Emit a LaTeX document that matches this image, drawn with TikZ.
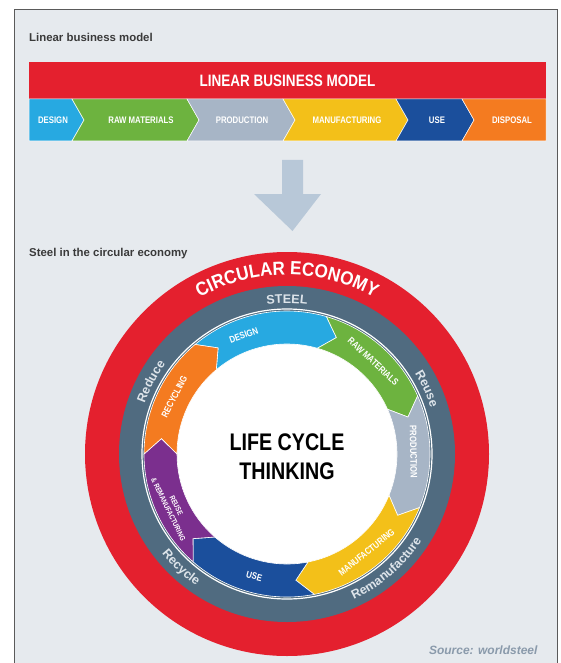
\documentclass[tikz,border=0pt]{standalone}
\usepackage{fontspec}
\setmainfont{Liberation Sans}
\newfontfamily\condfont[FakeStretch=0.82]{Liberation Sans}
\newfontfamily\semicond[FakeStretch=0.9]{Liberation Sans}
\usetikzlibrary{decorations.text}

\definecolor{paper}{HTML}{E6EAEE}
\definecolor{framegray}{HTML}{5A5A5A}
\definecolor{ecored}{HTML}{E4202E}
\definecolor{steel}{HTML}{506B80}
\definecolor{designblue}{HTML}{27A9E1}
\definecolor{rawgreen}{HTML}{6DB33F}
\definecolor{prodgray}{HTML}{A7B5C6}
\definecolor{manuyellow}{HTML}{F3C019}
\definecolor{useblue}{HTML}{1B4F9C}
\definecolor{dispoorange}{HTML}{F47B20}
\definecolor{reusepurple}{HTML}{7B2F8E}
\definecolor{arrowgray}{HTML}{B8C8D8}
\definecolor{ringtext}{HTML}{DDE4EA}
\definecolor{titletext}{HTML}{3A3A3A}
\definecolor{sourcetext}{HTML}{8A9AAB}

\tikzset{
  chev/.style={draw=white, line width=0.5pt},
  barlabel/.style={text=white, font=\condfont\bfseries\fontsize{9.5}{10}\selectfont},
  cyclabel/.style={text=white, font=\condfont\bfseries\fontsize{9.5}{10}\selectfont, align=center, inner sep=0pt},
  title/.style={anchor=west, text=titletext, font=\bfseries\fontsize{11.4}{12}\selectfont, inner sep=0pt}
}
\newcommand{\ringfont}{\bfseries\fontsize{12.5}{13}\selectfont\color{ringtext}}

\begin{document}
\begin{tikzpicture}[x=1pt, y=1pt]
    \useasboundingbox (0,0) rectangle (560,-663);

    % Fondo y marco
    \fill[white] (0,0) rectangle (560,-663);
    \draw[framegray, fill=paper, line width=1pt] (14,-10) rectangle (557,-670);

    % Modelo lineal
    \node[title] (lintitle) at (29,-37) {Linear business model};
    \fill[ecored] (29,-62) rectangle (546,-99);
    \node[text=white, font=\condfont\bfseries\fontsize{16.5}{17}\selectfont] (linhead) at (287.5,-80.5) {LINEAR BUSINESS MODEL};

    % Flechas del modelo lineal
    \fill[designblue, chev] (29,-99) -- (72,-99) -- (84,-120) -- (72,-141) -- (29,-141) -- cycle;
    \fill[rawgreen, chev] (72,-99) -- (187,-99) -- (199,-120) -- (187,-141) -- (72,-141) -- (84,-120) -- cycle;
    \fill[prodgray, chev] (187,-99) -- (283,-99) -- (295,-120) -- (283,-141) -- (187,-141) -- (199,-120) -- cycle;
    \fill[manuyellow, chev] (283,-99) -- (396,-99) -- (408,-120) -- (396,-141) -- (283,-141) -- (295,-120) -- cycle;
    \fill[useblue, chev] (396,-99) -- (462,-99) -- (474,-120) -- (462,-141) -- (396,-141) -- (408,-120) -- cycle;
    \fill[dispoorange, chev] (462,-99) -- (546,-99) -- (546,-141) -- (462,-141) -- (474,-120) -- cycle;
    \node[barlabel] (ldesign) at (53,-120) {DESIGN};
    \node[barlabel] (lraw) at (141,-120) {RAW MATERIALS};
    \node[barlabel] (lprod) at (242,-120) {PRODUCTION};
    \node[barlabel] (lmanu) at (347,-120) {MANUFACTURING};
    \node[barlabel] (luse) at (437,-120) {USE};
    \node[barlabel] (ldisp) at (512,-120) {DISPOSAL};

    % Flecha hacia abajo
    \fill[arrowgray] (282,-160) -- (303,-160) -- (303,-194) -- (321,-194) -- (292.5,-231) -- (254,-194) -- (282,-194) -- cycle;

    % Economia circular
    \node[title] (circtitle) at (29,-254) {Steel in the circular economy};

    \begin{scope}[shift={(287,-454)}]
      % Anillos
      \fill[ecored] (0,0) circle (202pt);
      \fill[steel] (0,0) circle (168pt);
      \draw[white, line width=1.2pt] (0,0) circle (145pt);
      \fill[white] (0,0) circle (112pt);

      % Flechas del ciclo
      \foreach \a/\b/\col in {130/74/designblue, 74/24/rawgreen, 24/-22/prodgray,
                              -22/-79/manuyellow, -79/-131/useblue,
                              -131/-180/reusepurple, 180/130/dispoorange}
        \fill[\col, draw=white, line width=0.6pt]
          (\a:143pt) arc[start angle=\a, end angle=\b, radius=143pt]
          -- ({\b-7}:126.5pt) -- (\b:110pt)
          arc[start angle=\b, end angle=\a, radius=110pt]
          -- ({\a-7}:126.5pt) -- cycle;

      \node[cyclabel, rotate=20] (cdesign) at (110:126.5pt) {DESIGN};
      \node[cyclabel, rotate=-43] (craw) at (47:126.5pt) {RAW MATERIALS};
      \node[cyclabel, rotate=-89] (cprod) at (1:126.5pt) {PRODUCTION};
      \node[cyclabel, rotate=39] (cmanu) at (-51:126.5pt) {MANUFACTURING};
      \node[cyclabel, rotate=-15] (cuse) at (-105:126.5pt) {USE};
      \node[cyclabel, rotate=-64, font=\condfont\bfseries\fontsize{7.5}{8}\selectfont] (creuse) at (-155:126.5pt) {REUSE\\[1pt]\& REMANUFACTURING};
      \node[cyclabel, rotate=63] (crecyc) at (153:126.5pt) {RECYCLING};

      % Textos curvos
      \path[decorate, decoration={text along path, text align=center,
        text={|\semicond\bfseries\fontsize{19}{19}\selectfont\color{white}|CIRCULAR ECONOMY}}]
        (135:179pt) arc[start angle=135, end angle=45, radius=179pt];
      \path[decorate, decoration={text along path, text align=center, text={|\ringfont|STEEL}}]
        (130:151pt) arc[start angle=130, end angle=50, radius=151pt];
      \path[decorate, decoration={text along path, text align=center, text={|\ringfont|Reduce}}]
        (192:151pt) arc[start angle=192, end angle=112, radius=151pt];
      \path[decorate, decoration={text along path, text align=center, text={|\ringfont|Reuse}}]
        (65:151pt) arc[start angle=65, end angle=-15, radius=151pt];
      \path[decorate, decoration={text along path, text align=center, text={|\ringfont|Recycle}}]
        (-173:160pt) arc[start angle=-173, end angle=-93, radius=160pt];
      \path[decorate, decoration={text along path, text align=center, text={|\ringfont|Remanufacture}}]
        (-94:160pt) arc[start angle=-94, end angle=-4, radius=160pt];

      % Centro
      \node[align=center, font=\condfont\bfseries\fontsize{24}{29}\selectfont] (life) at (0,-3) {LIFE CYCLE\\THINKING};
    \end{scope}

    % Fuente
    \node[anchor=east, text=sourcetext, font=\bfseries\itshape\fontsize{12}{12}\selectfont] (source) at (541,-650) {Source: worldsteel};
\end{tikzpicture}
\end{document}
